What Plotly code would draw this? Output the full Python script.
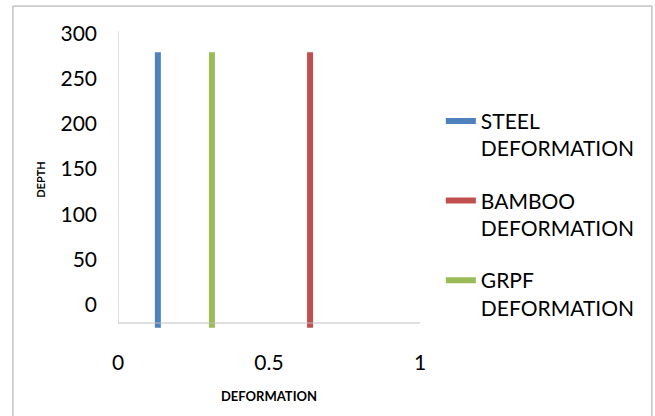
import plotly.graph_objects as go

# Deformation of each material, drawn as a vertical line over the depth span
series_names = ["STEEL<br>DEFORMATION", "BAMBOO<br>DEFORMATION", "GRPF<br>DEFORMATION"]
deformation = [0.132, 0.636, 0.311]
colors = ["#4F81BD", "#C0504D", "#9BBB59"]
depth_span = [-25, 279]

y_ticks = [0, 50, 100, 150, 200, 250, 300]
x_ticks = [0, 0.5, 1]
x_tick_labels = ["0", "0.5", "1"]

y_range = [-25.4, 302.5]
x_axis_level = -19.9  # where the horizontal axis line crosses the depth scale

fig = go.Figure()
for name, d, c in zip(series_names, deformation, colors):
    fig.add_trace(go.Scatter(
        x=[d, d], y=depth_span, mode="lines", name=name,
        line=dict(color=c, width=6), legendgroup=name,
    ))

axis_color = "#BFBFBF"
# axis lines
fig.add_shape(type="line", xref="x", yref="y", x0=0, x1=1, y0=x_axis_level, y1=x_axis_level,
              line=dict(color=axis_color, width=1))
fig.add_shape(type="line", xref="x", yref="y", x0=0, x1=0, y0=x_axis_level, y1=y_range[1],
              line=dict(color=axis_color, width=1))
# outer chart frame
fig.add_shape(type="rect", xref="paper", yref="paper", x0=-0.348, x1=1.768, y0=-0.35, y1=1.084,
              line=dict(color="#A6A6A6", width=1), layer="below")

font = "Lato, 'Open Sans', sans-serif"
fig.update_layout(
    width=655, height=416,
    margin=dict(l=118, r=235, t=31, b=88),
    paper_bgcolor="white", plot_bgcolor="white",
    font=dict(family=font, size=21, color="#000000"),
    showlegend=True,
    legend=dict(x=1.069, y=0.765, xanchor="left", yanchor="top", valign="top",
                tracegroupgap=22, font=dict(size=21), bgcolor="rgba(0,0,0,0)"),
    xaxis=dict(range=[0, 1], tickvals=x_ticks, ticktext=x_tick_labels, showgrid=False,
               zeroline=False, showline=False, ticks="", ticklabelstandoff=20,
               title=dict(text="<b>DEFORMATION</b>", font=dict(size=13), standoff=18)),
    yaxis=dict(range=y_range, tickvals=y_ticks, showgrid=False, zeroline=False,
               showline=False, ticks="", ticklabelstandoff=20,
               title=dict(text="<b>DEPTH</b>", font=dict(size=11), standoff=12)),
)

fig.write_html("out.html")
